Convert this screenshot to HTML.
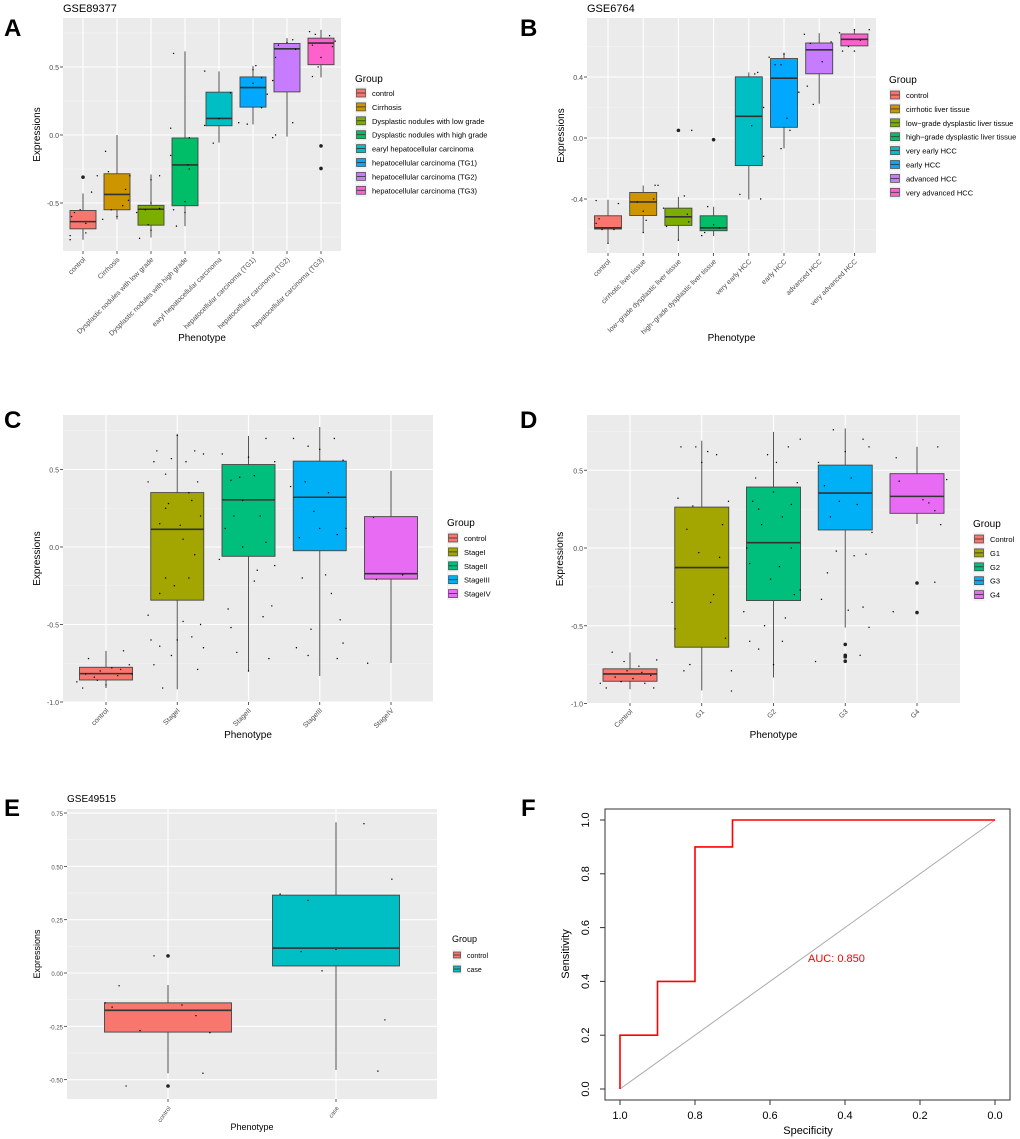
<!DOCTYPE html>
<html><head><meta charset="utf-8">
<style>
body{margin:0;background:#fff;}
svg{display:block;font-family:"Liberation Sans",sans-serif;}
</style></head>
<body>
<svg id="fig" width="1020" height="1139" viewBox="0 0 1020 1139">
</svg>
<script>
// ===== Panel A data (GSE89377) =====
const aCats=["control","Cirrhosis","Dysplastic nodules with low grade","Dysplastic nodules with high grade","earyl hepatocellular carcinoma","hepatocellular carcinoma (TG1)","hepatocellular carcinoma (TG2)","hepatocellular carcinoma (TG3)"];
const aLo=[-0.77,-0.62,-0.754,-0.67,-0.056,0.078,-0.012,0.424];
const aQ1=[-0.69,-0.55,-0.663,-0.52,0.068,0.205,0.317,0.517];
const aMed=[-0.637,-0.437,-0.546,-0.22,0.122,0.349,0.634,0.676];
const aQ3=[-0.555,-0.285,-0.517,-0.022,0.315,0.427,0.673,0.712];
const aHi=[-0.43,0.0,-0.29,0.615,0.468,0.507,0.712,0.773];
const aOut=[[-0.31],[],[],[],[],[],[],[-0.08,-0.246]];
const aPts=[[[-0.45,-0.74],[-0.45,-0.77],[-0.4,-0.6],[-0.1,-0.55],[0.1,-0.65],[0.3,-0.42],[0.5,-0.3],[0.1,-0.72],[-0.3,-0.57]],
[[-0.5,-0.62],[-0.4,-0.12],[-0.3,-0.27],[0.0,-0.6],[0.3,-0.4],[0.4,-0.48],[0.45,-0.3],[0.2,-0.52],[-0.2,-0.55]],
[[-0.4,-0.76],[-0.5,-0.57],[-0.2,-0.55],[0.0,-0.5],[0.0,-0.33],[-0.1,-0.66],[0.3,-0.3],[0.0,-0.7],[0.3,-0.54]],
[[-0.5,0.05],[-0.5,-0.15],[-0.4,-0.55],[-0.3,-0.67],[-0.4,0.6],[0.0,-0.49],[0.1,-0.22],[0.15,-0.02],[0.0,-0.57],[0.15,-0.25]],
[[-0.5,0.47],[-0.5,0.07],[-0.2,-0.06],[0.4,0.31],[0.0,0.12]],
[[-0.5,0.09],[-0.2,0.08],[0.0,0.48],[0.1,0.51],[0.0,0.38],[0.5,0.3],[0.3,0.2],[0.3,0.42]],
[[-0.5,0.4],[-0.5,-0.02],[-0.4,0.0],[-0.4,0.57],[-0.3,0.66],[0.0,0.68],[0.2,0.7],[0.2,0.09],[0.3,0.63]],
[[-0.4,0.76],[-0.3,0.43],[-0.2,0.74],[-0.1,0.5],[0.0,0.57],[0.3,0.73],[0.4,0.65],[0.5,0.69],[-0.3,0.66]]];
// ===== Panel B data (GSE6764) =====
const bCats=["control","cirrhotic liver tissue","low\u2212grade dysplastic liver tissue","high\u2212grade dysplastic liver tissue","very early HCC","early HCC","advanced HCC","very advanced HCC"];
const bLo=[-0.687,-0.621,-0.669,-0.643,-0.403,-0.068,0.225,0.604];
const bQ1=[-0.597,-0.508,-0.573,-0.608,-0.181,0.07,0.421,0.604];
const bMed=[-0.589,-0.419,-0.517,-0.589,0.142,0.392,0.578,0.647];
const bQ3=[-0.51,-0.357,-0.46,-0.51,0.401,0.521,0.623,0.682];
const bHi=[-0.405,-0.312,-0.386,-0.451,0.43,0.56,0.687,0.713];
const bOut=[[],[],[0.05],[-0.011],[],[],[],[]];
const bPts=[[[-0.4,-0.41],[-0.3,-0.53],[-0.2,-0.6],[0.0,-0.69],[0.2,-0.6],[0.35,-0.43],[-0.4,-0.56]],
[[-0.2,-0.42],[0.0,-0.48],[0.1,-0.54],[0.0,-0.62],[0.35,-0.4],[0.4,-0.31],[0.5,-0.31]],
[[-0.5,-0.46],[-0.4,-0.58],[0.0,-0.67],[0.2,-0.38],[0.3,-0.5],[0.35,-0.55],[0.45,0.05]],
[[-0.4,-0.64],[-0.3,-0.62],[-0.2,-0.45],[0.0,-0.57],[0.2,-0.59]],
[[-0.3,-0.37],[0.1,0.08],[0.2,0.42],[0.3,0.43],[0.4,-0.4],[0.5,-0.12],[0.5,0.2]],
[[-0.5,0.53],[-0.3,0.48],[-0.1,-0.07],[-0.1,0.48],[0.0,0.55],[0.1,0.13],[0.2,0.05],[0.5,0.3]],
[[-0.5,0.68],[-0.4,0.34],[-0.2,0.22],[-0.3,0.62],[0.1,0.5],[0.4,0.63]],
[[-0.5,0.69],[-0.4,0.57],[-0.2,0.6],[0.0,0.57],[0.0,0.71],[0.5,0.71],[0.2,0.64]]];
// ===== Panel C data =====
const cCats=["control","StageI","StageII","StageIII","StageIV"];
const cLo=[-0.91,-0.918,-0.797,-0.832,-0.748];
const cQ1=[-0.858,-0.343,-0.06,-0.024,-0.207];
const cMed=[-0.817,0.114,0.304,0.321,-0.172];
const cQ3=[-0.776,0.351,0.532,0.554,0.196];
const cHi=[-0.67,0.73,0.716,0.774,0.491];
const cOut=[[],[],[],[],[]];
const cPts=[[[-0.5,-0.87],[-0.4,-0.91],[-0.3,-0.72],[-0.2,-0.84],[-0.1,-0.8],[0.0,-0.89],[0.1,-0.78],[0.2,-0.83],[0.3,-0.67],[0.4,-0.76],[0.45,-0.82],[-0.15,-0.86],[0.25,-0.79],[-0.35,-0.82]],
[[-0.5,-0.44],[-0.5,0.42],[-0.45,-0.6],[-0.4,0.55],[-0.4,-0.76],[-0.35,0.62],[-0.3,0.15],[-0.3,-0.64],[-0.25,-0.91],[-0.2,0.47],[-0.2,-0.2],[-0.15,0.28],[-0.1,0.57],[-0.1,-0.7],[-0.05,-0.25],[0.0,0.72],[0.0,-0.6],[0.05,0.14],[0.1,-0.48],[0.1,0.05],[0.15,0.55],[0.2,-0.2],[0.25,0.3],[0.25,-0.58],[0.3,0.62],[0.3,-0.05],[0.35,-0.79],[0.35,0.42],[0.4,-0.5],[0.4,0.2],[0.45,0.6],[0.45,-0.65],[-0.3,-0.3],[-0.2,0.25],[0.2,0.35]],
[[-0.5,-0.08],[-0.45,0.6],[-0.4,0.12],[-0.35,-0.4],[-0.3,0.43],[-0.3,-0.52],[-0.25,0.2],[-0.2,-0.68],[-0.15,0.45],[-0.1,0.3],[0.0,0.58],[0.0,-0.8],[0.1,0.46],[0.15,-0.15],[0.2,0.2],[0.25,-0.45],[0.3,0.7],[0.3,0.03],[0.35,-0.72],[0.4,-0.38],[0.45,0.55],[0.45,-0.12],[0.1,-0.22],[-0.1,0.0]],
[[-0.5,0.39],[-0.45,0.7],[-0.4,-0.65],[-0.35,0.06],[-0.3,-0.2],[-0.25,0.42],[-0.2,-0.7],[-0.2,0.65],[-0.15,-0.53],[-0.1,0.23],[0.0,0.63],[0.0,0.12],[0.1,-0.18],[0.15,0.35],[0.2,-0.3],[0.25,0.7],[0.3,0.08],[0.35,-0.47],[0.4,-0.62],[0.45,0.12],[0.4,0.56],[0.3,-0.72]],
[[-0.4,-0.75],[-0.3,0.19],[-0.25,-0.21],[0.2,-0.18]]];
// ===== Panel D data =====
const dCats=["Control","G1","G2","G3","G4"];
const dLo=[-0.908,-0.916,-0.833,-0.512,0.154];
const dQ1=[-0.857,-0.638,-0.338,0.116,0.223];
const dMed=[-0.81,-0.126,0.034,0.353,0.332];
const dQ3=[-0.777,0.263,0.392,0.533,0.478];
const dHi=[-0.672,0.69,0.747,0.769,0.651];
const dOut=[[],[],[],[-0.62,-0.69,-0.70,-0.728],[-0.225,-0.415]];
const dPts=[[[-0.5,-0.87],[-0.4,-0.9],[-0.3,-0.67],[-0.25,-0.83],[-0.15,-0.86],[-0.05,-0.79],[0.05,-0.84],[0.15,-0.76],[0.25,-0.87],[0.35,-0.82],[0.45,-0.72],[0.4,-0.9],[-0.1,-0.73],[0.2,-0.8]],
[[-0.5,-0.35],[-0.45,-0.52],[-0.4,0.32],[-0.35,0.65],[-0.3,-0.79],[-0.25,0.12],[-0.2,-0.75],[-0.15,0.27],[-0.1,0.65],[-0.05,-0.03],[0.0,0.55],[0.1,0.62],[0.15,-0.35],[0.2,-0.3],[0.25,0.6],[0.3,-0.06],[0.35,0.15],[0.4,-0.58],[0.45,0.3],[0.5,-0.92],[0.5,-0.79]],
[[-0.5,-0.41],[-0.45,0.0],[-0.4,-0.6],[-0.35,0.3],[-0.3,0.45],[-0.25,-0.65],[-0.2,0.15],[-0.15,-0.5],[-0.1,0.6],[-0.05,-0.2],[0.0,0.36],[0.0,-0.75],[0.05,0.55],[0.1,-0.12],[0.15,0.2],[0.2,-0.45],[0.25,0.65],[0.3,0.0],[0.35,-0.3],[0.4,0.42],[0.45,0.7],[0.45,-0.27],[-0.25,0.25],[0.15,-0.6],[0.3,0.28],[-0.4,-0.1]],
[[-0.5,-0.73],[-0.45,0.55],[-0.4,-0.33],[-0.35,0.4],[-0.3,-0.16],[-0.25,0.2],[-0.2,0.76],[-0.15,-0.02],[-0.1,0.3],[0.0,0.62],[0.05,-0.4],[0.1,0.45],[0.15,-0.05],[0.2,0.28],[0.25,-0.69],[0.3,0.7],[0.35,-0.04],[0.4,0.65],[0.45,0.1],[0.4,-0.51],[0.3,-0.38]],
[[-0.4,-0.41],[-0.35,0.58],[-0.3,0.43],[0.1,0.31],[0.2,0.29],[0.3,-0.22],[0.35,0.65],[0.4,0.15],[0.5,0.44],[0.3,0.24]]];
// ===== Panel E data (GSE49515) =====
const eCats=["control","case"];
const eLo=[-0.47,-0.455];
const eQ1=[-0.277,0.033];
const eMed=[-0.175,0.117];
const eQ3=[-0.14,0.365];
const eHi=[-0.056,0.707];
const eOut=[[0.08,-0.53],[]];
const ePts=[[[-0.35,-0.06],[-0.3,-0.53],[-0.45,-0.14],[-0.4,-0.16],[-0.2,-0.27],[0.1,-0.15],[0.2,-0.2],[0.3,-0.28],[0.25,-0.47],[-0.1,0.08]],
[[-0.4,0.37],[-0.2,0.34],[-0.25,0.1],[-0.1,0.01],[0.0,0.11],[0.2,0.7],[0.3,-0.46],[0.35,-0.22],[0.4,0.44]]];
// ===== Panel F data (ROC) =====
const fSpec=[1.0,1.0,0.9,0.9,0.8,0.8,0.7,0.7,0.0];
const fSens=[0.0,0.2,0.2,0.4,0.4,0.9,0.9,1.0,1.0];
const fXTicks=[1.0,0.8,0.6,0.4,0.2,0.0];
const fYTicks=[0.0,0.2,0.4,0.6,0.8,1.0];
const fAUC="AUC: 0.850";

const NS="http://www.w3.org/2000/svg";
const svg=document.getElementById('fig');
function mk(tag,attrs,parent,text){const e=document.createElementNS(NS,tag);for(const k in attrs)e.setAttribute(k,attrs[k]);if(text!==undefined)e.textContent=text;(parent||svg).appendChild(e);return e;}

function boxPanel(p){
  const g=mk('g',{});
  
  
  const X=i=>p.x0+p.dx*i, Y=v=>p.y0-v*p.k;
  const bg=mk('rect',{x:p.L,y:p.T,width:p.R-p.L,height:p.B-p.T,fill:'#ebebeb'},g);
  
  
  p.minor.forEach(v=>mk('line',{x1:p.L,x2:p.R,y1:Y(v),y2:Y(v),stroke:'#f6f6f6','stroke-width':0.6},g));
  p.ticks.forEach(v=>mk('line',{x1:p.L,x2:p.R,y1:Y(v),y2:Y(v),stroke:'#fff','stroke-width':1.1},g));
  p.cats.forEach((c,i)=>mk('line',{x1:X(i),x2:X(i),y1:p.T,y2:p.B,stroke:'#fff','stroke-width':1.1},g));
  // y ticks
  p.ticks.forEach((v,i)=>{
    mk('line',{x1:p.L-3,x2:p.L,y1:Y(v),y2:Y(v),stroke:'#333','stroke-width':0.8},g);
    const t=mk('text',{x:p.L-4,y:Y(v)+3,'font-size':p.fs,fill:'#4d4d4d','text-anchor':'end'},g,p.tickLabels[i]);
    
    
  });
  // boxes
  p.cats.forEach((c,i)=>{
    const x=X(i),w=p.bw;
    mk('line',{x1:x,x2:x,y1:Y(p.hi[i]),y2:Y(p.q3[i]),stroke:'#555','stroke-width':1},g);
    mk('line',{x1:x,x2:x,y1:Y(p.q1[i]),y2:Y(p.lo[i]),stroke:'#555','stroke-width':1},g);
    const r=mk('rect',{x:x-w/2,y:Y(p.q3[i]),width:w,height:Math.max(1,Y(p.q1[i])-Y(p.q3[i])),fill:p.colors[i],stroke:'#444','stroke-width':0.9},g);
    
    
    mk('line',{x1:x-w/2,x2:x+w/2,y1:Y(p.med[i]),y2:Y(p.med[i]),stroke:'#333','stroke-width':1.6},g);
    p.out[i].forEach(v=>mk('circle',{cx:x,cy:Y(v),r:1.8,fill:'#222'},g));
    p.pts[i].forEach(q=>mk('circle',{cx:x+q[0]*w*1.1,cy:Y(q[1]),r:0.7,fill:'#000'},g));
    mk('line',{x1:x,x2:x,y1:p.B,y2:p.B+3,stroke:'#333','stroke-width':0.8},g);
    const t=mk('text',{x:x+3,y:p.B+9,'font-size':p.fs,fill:'#4d4d4d','text-anchor':'end',transform:`rotate(${-p.rot} ${x+3} ${p.B+9})`},g,c);
    
    
  });
  const yt=mk('text',{x:p.ytx,y:(p.T+p.B)/2,'font-size':p.tfs,fill:'#000','text-anchor':'middle',transform:`rotate(-90 ${p.ytx} ${(p.T+p.B)/2})`},g,'Expressions');
  
  
  const xt=mk('text',{x:(p.L+p.R)/2,y:p.xty,'font-size':p.tfs,fill:'#000','text-anchor':'middle'},g,'Phenotype');
  
  
  // legend
  const lg=mk('g',{},g);
  
  
  mk('text',{x:p.lx,y:p.ly,'font-size':p.tfs,fill:'#000'},lg,'Group');
  p.cats.forEach((c,i)=>{
    const yy=p.ly+p.lfirst+i*p.lstep;
    const e=mk('g',{},lg);
    
    
    mk('rect',{x:p.lx,y:yy-p.lk/2,width:p.lk+1,height:p.lk+2,fill:'#f2f2f2'},e);
    mk('rect',{x:p.lx+1.5,y:yy-p.lk/2+2.5,width:p.lk-2,height:p.lk-3,fill:p.colors[i],stroke:'#444','stroke-width':0.7},e);
    mk('line',{x1:p.lx+1.5,x2:p.lx+p.lk-0.5,y1:yy+1,y2:yy+1,stroke:'#333','stroke-width':0.8},e);
    mk('text',{x:p.lx+p.lk+6,y:yy+4,'font-size':p.lfs,fill:'#000'},e,(p.legLabels||p.cats)[i]);
  });
  if(p.title){const t=mk('text',{x:p.L,y:p.titleY,'font-size':p.tfs+1,fill:'#000'},g,p.title);
    }
  const lab=mk('text',{x:p.labX,y:p.labY,'font-size':24,'font-weight':'bold',fill:'#000'},g,p.label);
  
  
}
const c8=['#f8766d','#cd9600','#7cae00','#00be67','#00bfc4','#00a9ff','#c77cff','#ff61cc'];
const c5=['#f8766d','#a3a500','#00bf7d','#00b0f6','#e76bf3'];

boxPanel({name:'panel-a',label:'A',labX:4,labY:36,title:'GSE89377',titleY:12,L:63,R:341,T:18,B:251,x0:83,dx:34,bw:26,y0:135,k:136,
 ticks:[-0.5,0,0.5],tickLabels:['-0.5','0.0','0.5'],minor:[-0.75,-0.25,0.25,0.75],cats:aCats,lo:aLo,q1:aQ1,med:aMed,q3:aQ3,hi:aHi,out:aOut,pts:aPts,colors:c8,
 fs:7,tfs:10,rot:45,ytx:40,xty:341,lx:355,ly:82,lfirst:10,lstep:13.9,lk:11,lfs:7.5});
boxPanel({name:'panel-b',label:'B',labX:520,labY:36,title:'GSE6764',titleY:12,L:587,R:876,T:18,B:253,x0:608,dx:35.2,bw:27,y0:138,k:152.5,
 ticks:[-0.4,0,0.4],tickLabels:['-0.4','0.0','0.4'],minor:[-0.6,-0.2,0.2,0.6],cats:bCats,lo:bLo,q1:bQ1,med:bMed,q3:bQ3,hi:bHi,out:bOut,pts:bPts,colors:c8,
 legLabels:['control','cirrhotic liver tissue','low\u2212grade dysplastic liver tissue','high\u2212grade dysplastic liver tissue','very early HCC','early HCC','advanced HCC','very advanced HCC'],
 fs:7,tfs:10,rot:45,ytx:564,xty:341,lx:889,ly:83,lfirst:11,lstep:13.9,lk:11,lfs:7.5});
boxPanel({name:'panel-c',label:'C',labX:4,labY:428,L:63,R:433,T:415,B:702,x0:106,dx:71.25,bw:53,y0:547,k:155,
 ticks:[-1,-0.5,0,0.5],tickLabels:['-1.0','-0.5','0.0','0.5'],minor:[-0.75,-0.25,0.25,0.75],cats:cCats,lo:cLo,q1:cQ1,med:cMed,q3:cQ3,hi:cHi,out:cOut,pts:cPts,colors:c5,
 fs:7,tfs:10,rot:45,ytx:40,xty:738,lx:447,ly:526,lfirst:11,lstep:13.9,lk:11,lfs:7.5});
boxPanel({name:'panel-d',label:'D',labX:520,labY:428,L:587,R:960,T:415,B:703,x0:630,dx:71.75,bw:54,y0:548,k:155.5,
 ticks:[-1,-0.5,0,0.5],tickLabels:['-1.0','-0.5','0.0','0.5'],minor:[-0.75,-0.25,0.25,0.75],cats:dCats,lo:dLo,q1:dQ1,med:dMed,q3:dQ3,hi:dHi,out:dOut,pts:dPts,colors:c5,
 fs:7,tfs:10,rot:45,ytx:563,xty:738,lx:973,ly:527,lfirst:11,lstep:13.9,lk:11,lfs:7.5});
boxPanel({name:'panel-e',label:'E',labX:4,labY:816,title:'GSE49515',titleY:802,L:67,R:437,T:809,B:1099,x0:168,dx:168,bw:127,y0:973,k:213.3,
 ticks:[-0.5,-0.25,0,0.25,0.5,0.75],tickLabels:['-0.50','-0.25','0.00','0.25','0.50','0.75'],minor:[-0.375,-0.125,0.125,0.375,0.625],cats:eCats,lo:eLo,q1:eQ1,med:eMed,q3:eQ3,hi:eHi,out:eOut,pts:ePts,colors:['#f8766d','#00bfc4'],
 fs:6,tfs:9,rot:55,ytx:40,xty:1130,lx:452,ly:942,lfirst:12,lstep:14,lk:9,lfs:7});

// ===== Panel F ROC =====
(function(){
  const g=mk('g',{});
  
  
  const X=s=>995-s*375, Y=v=>1089-v*269;
  const lab=mk('text',{x:521,y:816,'font-size':24,'font-weight':'bold',fill:'#000'},g,'F');
  
  
  const fr=mk('rect',{x:605,y:809,width:405,height:291,fill:'#fff',stroke:'#333','stroke-width':1},g);
  
  
  const dg=mk('line',{x1:X(1),y1:Y(0),x2:X(0),y2:Y(1),stroke:'#aaa','stroke-width':1},g);
  
  
  fXTicks.forEach(v=>{
    mk('line',{x1:X(v),x2:X(v),y1:1100,y2:1105,stroke:'#333'},g);
    const t=mk('text',{x:X(v),y:1119,'font-size':11,fill:'#000','text-anchor':'middle'},g,v.toFixed(1));
    
    
  });
  fYTicks.forEach(v=>{
    mk('line',{x1:600,x2:605,y1:Y(v),y2:Y(v),stroke:'#333'},g);
    const t=mk('text',{x:589,y:Y(v),'font-size':11,fill:'#000','text-anchor':'middle',transform:`rotate(-90 589 ${Y(v)})`},g,v.toFixed(1));
    
    
  });
  const pts=fSpec.map((s,i)=>X(s)+','+Y(fSens[i])).join(' ');
  const roc=mk('polyline',{points:pts,fill:'none',stroke:'#ff0000','stroke-width':1.6},g);
  
  
  const a=mk('text',{x:808,y:962,'font-size':11,fill:'#ff0000'},g,fAUC);
  
  
  const xt=mk('text',{x:808,y:1134,'font-size':11,fill:'#000','text-anchor':'middle'},g,'Specificity');
  
  
  const yt=mk('text',{x:569,y:954,'font-size':11,fill:'#000','text-anchor':'middle',transform:'rotate(-90 569 954)'},g,'Sensitivity');
  
  
})();
</script>
</body></html>
